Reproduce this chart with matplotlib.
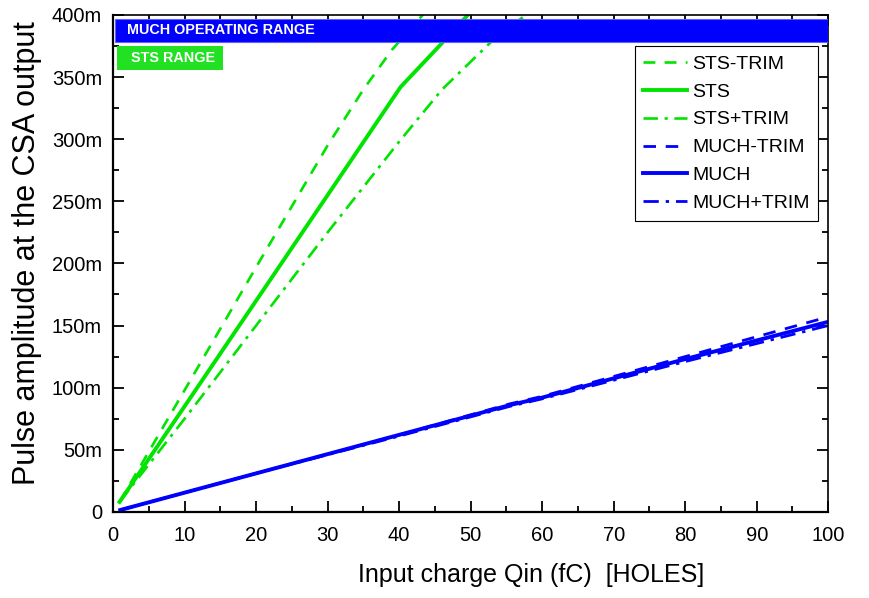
import matplotlib
matplotlib.use("Agg")
import matplotlib.pyplot as plt
from matplotlib.patches import Rectangle
from matplotlib.ticker import FuncFormatter, MultipleLocator

plt.rcParams['font.family'] = ['Liberation Sans', 'DejaVu Sans']

# input charge (fC) vs CSA pulse amplitude (V), holes
sts_minus_x = [0.9, 10.0, 20.0, 30.0, 35.0, 39.0, 43.3, 48.0]
sts_minus_y = [0.008, 0.098, 0.197, 0.295, 0.340, 0.372, 0.400, 0.425]
sts_x = [0.9, 10.0, 20.0, 30.0, 40.2, 46.1, 49.6, 55.0]
sts_y = [0.008, 0.085, 0.170, 0.255, 0.342, 0.378, 0.400, 0.430]
sts_plus_x = [0.9, 10.0, 20.0, 30.0, 40.0, 46.0, 52.8, 57.7, 65.0]
sts_plus_y = [0.008, 0.075, 0.150, 0.225, 0.298, 0.340, 0.378, 0.400, 0.430]

much_x = [1.0, 20.0, 40.0, 55.5, 60.0, 80.0, 100.0]
much_minus_y = [0.0015, 0.031, 0.062, 0.087, 0.093, 0.125, 0.157]
much_y = [0.0015, 0.031, 0.062, 0.086, 0.092, 0.123, 0.153]
much_plus_y = [0.0015, 0.031, 0.061, 0.085, 0.091, 0.121, 0.150]

green = '#00e400'
blue = '#0000ff'

fig = plt.figure(figsize=(8.7, 5.98), dpi=100)
ax = fig.add_axes([0.130, 0.144, 0.822, 0.831])

ax.plot(sts_minus_x, sts_minus_y, color=green, lw=1.9, dashes=(4.5, 3.5), label='STS-TRIM')
ax.plot(sts_x, sts_y, color=green, lw=2.8, label='STS')
ax.plot(sts_plus_x, sts_plus_y, color=green, lw=1.9, dashes=(5.5, 2.5, 1.2, 2.5), label='STS+TRIM')
ax.plot(much_x, much_minus_y, color=blue, lw=2.0, dashes=(4.5, 3.5), label='MUCH-TRIM')
ax.plot(much_x, much_y, color=blue, lw=2.8, label='MUCH')
ax.plot(much_x, much_plus_y, color=blue, lw=2.0, dashes=(5.5, 2.5, 1.2, 2.5), label='MUCH+TRIM')

ax.set_xlim(0, 100)
ax.set_ylim(0, 0.4)

# operating range bars
ax.add_patch(Rectangle((0.2, 0.378), 99.8, 0.019, facecolor=blue, edgecolor='#6060ff',
                       lw=0.8, zorder=5))
ax.text(2.0, 0.3875, 'MUCH OPERATING RANGE', color='white', fontsize=10.4,
        fontweight='bold', va='center', ha='left', zorder=6)
ax.add_patch(Rectangle((0.5, 0.356), 14.9, 0.019, facecolor='#22e022', edgecolor='none',
                       zorder=5))
ax.text(2.5, 0.3655, 'STS RANGE', color='white', fontsize=10.4,
        fontweight='bold', va='center', ha='left', zorder=6)

leg = ax.legend(loc='upper right', bbox_to_anchor=(0.986, 0.937), fontsize=14,
                frameon=True, fancybox=False, edgecolor='black', framealpha=1,
                handlelength=2.25, handletextpad=0.25, labelspacing=0.53,
                borderpad=0.45, borderaxespad=0)
leg.get_frame().set_linewidth(0.8)
leg.set_zorder(4)

ax.xaxis.set_major_locator(MultipleLocator(10))
ax.xaxis.set_minor_locator(MultipleLocator(5))
ax.yaxis.set_major_locator(MultipleLocator(0.05))
ax.yaxis.set_minor_locator(MultipleLocator(0.025))
ax.yaxis.set_major_formatter(FuncFormatter(lambda v, p: '0' if v == 0 else '%dm' % round(v * 1000)))

ax.tick_params(which='both', direction='in', top=True, right=True, width=1.3)
ax.tick_params(which='major', length=8, labelsize=14.5)
ax.tick_params(which='minor', length=4.5)
ax.tick_params(axis='y', pad=8)
ax.tick_params(axis='x', pad=10)

for side in ['left', 'bottom']:
    ax.spines[side].set_linewidth(1.6)
for side in ['top', 'right']:
    ax.spines[side].set_linewidth(1.2)

ax.set_xlabel('Input charge Qin (fC)  [HOLES]', fontsize=18)
ax.xaxis.set_label_coords(0.585, -0.103)
ax.set_ylabel('Pulse amplitude at the CSA output', fontsize=22)
ax.yaxis.set_label_coords(-0.099, 0.521)

fig.savefig('out.png', dpi=100)
